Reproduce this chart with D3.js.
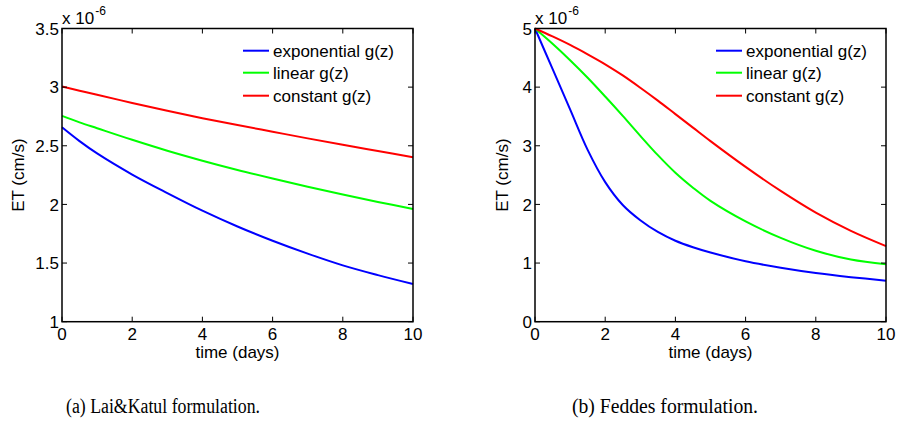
<!DOCTYPE html>
<html>
<head>
<meta charset="utf-8">
<script src="https://cdn.jsdelivr.net/npm/d3@7"></script>
<style>
  html, body { margin: 0; padding: 0; background: #fff; }
  svg { display: block; }
  text { font-family: "Liberation Sans", Arial, Helvetica, sans-serif; fill: #000; }
  .caption { font-family: "Liberation Serif", "DejaVu Serif", serif; }
</style>
</head>
<body>
<svg id="fig" width="898" height="429"></svg>
<script>
// ---- data (ET in units of 1e-6 cm/s, time in days) ----
const seriesNames = ["exponential g(z)", "linear g(z)", "constant g(z)"];
const seriesColors = ["#0000ff", "#00ff00", "#ff0000"];

// (a) Lai&Katul formulation
const laiDays = [0, 0.5, 1, 2, 3, 4, 5, 6, 7, 8, 9, 10];
const laiExponential = [2.658, 2.540, 2.435, 2.255, 2.097, 1.947, 1.812, 1.690, 1.580, 1.480, 1.397, 1.321];
const laiLinear      = [2.755, 2.700, 2.650, 2.551, 2.458, 2.373, 2.294, 2.221, 2.151, 2.084, 2.021, 1.961];
const laiConstant    = [3.005, 2.970, 2.935, 2.865, 2.798, 2.735, 2.677, 2.620, 2.563, 2.508, 2.455, 2.402];

// (b) Feddes formulation
const feddesDays = [0, 0.5, 1, 1.5, 2, 2.5, 3, 3.5, 4, 4.5, 5, 6, 7, 8, 9, 10];
const feddesExponential = [5.0, 4.31, 3.62, 2.93, 2.38, 1.99, 1.73, 1.53, 1.38, 1.27, 1.18, 1.03, 0.92, 0.83, 0.76, 0.70];
const feddesLinear      = [5.0, 4.74, 4.46, 4.16, 3.84, 3.51, 3.17, 2.84, 2.54, 2.285, 2.06, 1.71, 1.43, 1.21, 1.06, 0.98];
const feddesConstant    = [5.0, 4.865, 4.72, 4.56, 4.39, 4.20, 3.99, 3.77, 3.54, 3.31, 3.08, 2.64, 2.23, 1.86, 1.55, 1.29];

const xTicks = [0, 2, 4, 6, 8, 10];
const laiYTicks = [1, 1.5, 2, 2.5, 3, 3.5];
const feddesYTicks = [0, 1, 2, 3, 4, 5];

const xLabel = "time (days)";
const yLabel = "ET (cm/s)";
const captions = ["(a) Lai&Katul formulation.", "(b) Feddes formulation."];

// ---- drawing ----
const svg = d3.select("#fig");

function panel(opts) {
  const { left, right, top, bottom, yDomain, yTicks, days, series, caption, yLabelX, captionX, captionW } = opts;
  const x = d3.scaleLinear().domain([0, 10]).range([left, right]);
  const y = d3.scaleLinear().domain(yDomain).range([bottom, top]);
  const g = svg.append("g");
  const tickLen = 5;

  // curves
  const line = d3.line().x(d => x(d[0])).y(d => y(d[1])).curve(d3.curveCatmullRom.alpha(0.5));
  series.forEach((vals, i) => {
    g.append("path")
      .attr("d", line(days.map((d, j) => [d, vals[j]])))
      .attr("fill", "none")
      .attr("stroke", seriesColors[i])
      .attr("stroke-width", 2);
  });

  // inward ticks on all four sides
  const tickStyle = s => s.attr("stroke", "#000").attr("stroke-width", 1);
  xTicks.forEach(t => {
    g.append("line").attr("x1", x(t)).attr("x2", x(t)).attr("y1", bottom).attr("y2", bottom - tickLen).call(tickStyle);
    g.append("line").attr("x1", x(t)).attr("x2", x(t)).attr("y1", top).attr("y2", top + tickLen).call(tickStyle);
    g.append("text").attr("x", x(t)).attr("y", bottom + 18.5)
      .attr("text-anchor", "middle").attr("font-size", 17).text(t);
  });
  yTicks.forEach(t => {
    g.append("line").attr("x1", left).attr("x2", left + tickLen).attr("y1", y(t)).attr("y2", y(t)).call(tickStyle);
    g.append("line").attr("x1", right).attr("x2", right - tickLen).attr("y1", y(t)).attr("y2", y(t)).call(tickStyle);
    g.append("text").attr("x", left - 3).attr("y", y(t)).attr("dy", "0.36em")
      .attr("text-anchor", "end").attr("font-size", 17).text(t);
  });

  // frame
  g.append("rect").attr("x", left).attr("y", top).attr("width", right - left).attr("height", bottom - top)
    .attr("fill", "none").attr("stroke", "#000").attr("stroke-width", 1.5);

  // exponent label
  const ex = g.append("text").attr("x", left).attr("y", top - 4.5).attr("font-size", 17);
  ex.append("tspan").text("x 10");
  ex.append("tspan").attr("font-size", 12).attr("dy", -9).attr("dx", 1).text("-6");

  // axis labels
  g.append("text").attr("x", (left + right) / 2).attr("y", bottom + 36)
    .attr("text-anchor", "middle").attr("font-size", 17).text(xLabel);
  g.append("text").attr("transform", `translate(${yLabelX},${(top + bottom) / 2}) rotate(-90)`)
    .attr("text-anchor", "middle").attr("font-size", 17).text(yLabel);

  // legend
  const legX = right - 170, rowY = [50.7, 72.7, 95.7];
  seriesNames.forEach((name, i) => {
    g.append("line").attr("x1", legX).attr("x2", legX + 26).attr("y1", rowY[i]).attr("y2", rowY[i])
      .attr("stroke", seriesColors[i]).attr("stroke-width", 2);
    g.append("text").attr("x", legX + 30).attr("y", rowY[i]).attr("dy", "0.36em")
      .attr("font-size", 17).text(name);
  });

  // caption
  svg.append("text").attr("class", "caption").attr("x", captionX).attr("y", 413)
    .attr("font-size", 20).attr("textLength", captionW).attr("lengthAdjust", "spacingAndGlyphs")
    .text(caption);
}

panel({
  left: 62, right: 413, top: 28.5, bottom: 321.7,
  yDomain: [1, 3.5], yTicks: laiYTicks, days: laiDays,
  series: [laiExponential, laiLinear, laiConstant],
  caption: captions[0], yLabelX: 24, captionX: 66, captionW: 194
});
panel({
  left: 535, right: 886, top: 28.5, bottom: 321.7,
  yDomain: [0, 5], yTicks: feddesYTicks, days: feddesDays,
  series: [feddesExponential, feddesLinear, feddesConstant],
  caption: captions[1], yLabelX: 508, captionX: 572, captionW: 186
});
</script>
</body>
</html>
